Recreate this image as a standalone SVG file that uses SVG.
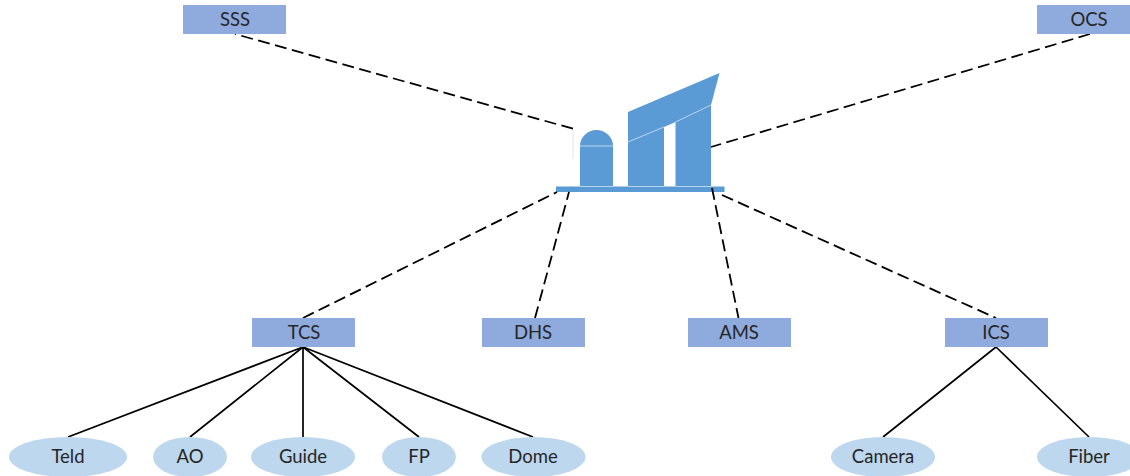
<svg xmlns="http://www.w3.org/2000/svg" width="1130" height="476" viewBox="0 0 1130 476">
<style>
.b{fill:#8faadc}
.e{fill:#bdd7ee}
.t{font-family:"Lato","Open Sans",sans-serif;font-size:18.500px;fill:#262626;text-anchor:middle}
.s{stroke:#000;stroke-width:1.700;fill:none}
.d{stroke:#000;stroke-width:1.800;fill:none;stroke-dasharray:12 5.500}
.i{fill:#5b9bd5}
.l{stroke:#bcd4ec;stroke-width:1;fill:none}
</style>
<rect width="1130" height="476" fill="#fff"/>
<g id="building">
<path d="M573 129V159" stroke="#e4e6f2" stroke-width="1" fill="none"/>
<path class="i" d="M580 146a16.500 16 0 0 1 33 0v41h-33z"/>
<path class="i" d="M628 112L719.500 73L711 105V187H675.500V122L664 127V187H628z"/>
<rect class="i" x="556" y="186.500" width="168.500" height="5.500"/>
<path class="l" d="M580 146H613M628 142L664 127M675.500 122L711 105M580 186.500H613M628 186.500H664M675.500 186.500H711"/>
</g>
<g id="connectors">
<path class="d" stroke-dashoffset="11" d="M235 34L574 129"/>
<path class="d" d="M1090 34L711 147M303 318L557 192M535 318L569 192M712 188L738.500 318M722 195L996 318"/>
<path class="s" d="M303 347L68 437M303 347L190 437M303 347V437M303 347L419 437M303 347L533 437M996 347L883 437M996 347L1089 437"/>
</g>
<g id="SSS"><rect class="b" x="183" y="5" width="103" height="29"/><text class="t" x="235" y="26">SSS</text></g>
<g id="OCS"><rect class="b" x="1037" y="5" width="93" height="29"/><text class="t" x="1089" y="26">OCS</text></g>
<g id="TCS"><rect class="b" x="252" y="318" width="103" height="29"/><text class="t" x="304" y="339">TCS</text></g>
<g id="DHS"><rect class="b" x="482" y="318" width="103" height="29"/><text class="t" x="533" y="339">DHS</text></g>
<g id="AMS"><rect class="b" x="688" y="318" width="103" height="29"/><text class="t" x="739" y="339">AMS</text></g>
<g id="ICS"><rect class="b" x="945" y="318" width="103" height="29"/><text class="t" x="996" y="339">ICS</text></g>
<g id="Teld"><ellipse class="e" cx="68" cy="457" rx="59" ry="20"/><text class="t" x="68" y="463">Teld</text></g>
<g id="AO"><ellipse class="e" cx="190" cy="457" rx="37" ry="20"/><text class="t" x="190" y="463">AO</text></g>
<g id="Guide"><ellipse class="e" cx="303" cy="457" rx="52" ry="20"/><text class="t" x="303" y="463">Guide</text></g>
<g id="FP"><ellipse class="e" cx="419" cy="457" rx="37" ry="20"/><text class="t" x="419" y="463">FP</text></g>
<g id="Dome"><ellipse class="e" cx="533.500" cy="457" rx="52" ry="20"/><text class="t" x="533" y="463">Dome</text></g>
<g id="Camera"><ellipse class="e" cx="883" cy="457" rx="52" ry="20"/><text class="t" x="883" y="463">Camera</text></g>
<g id="Fiber"><ellipse class="e" cx="1089" cy="457" rx="52" ry="20"/><text class="t" x="1089" y="463">Fiber</text></g>
</svg>
